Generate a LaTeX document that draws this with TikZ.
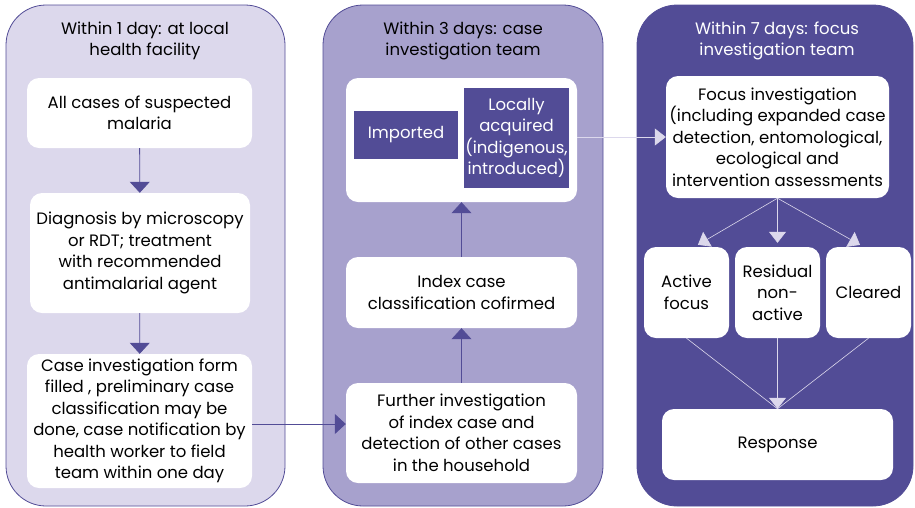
\documentclass[tikz,border=0pt]{standalone}
\usepackage{fontspec}
\setmainfont{Poppins}
\usetikzlibrary{arrows.meta}
\definecolor{deep}{HTML}{524C96}
\definecolor{mid}{HTML}{A7A1CD}
\definecolor{pale}{HTML}{DCD8EC}
\tikzstyle{panel}=[draw=deep, thick, rounded corners=40pt]
\tikzstyle{box}=[fill=white, rounded corners=12pt, align=center, inner sep=0pt]
\tikzstyle{tag}=[fill=deep, text=white, align=center, inner sep=0pt]
\tikzstyle{head}=[align=center]
\tikzstyle{link}=[deep, thick, -{Triangle[width=20pt, length=11pt]}]
\tikzstyle{lite}=[pale, semithick, -{Triangle[width=17pt, length=11pt]}]

\begin{document}
\begin{tikzpicture}[x=1pt, y=-1pt, font=\fontsize{16.5}{21.5}\selectfont]
                    \useasboundingbox (0,0) rectangle (915,507);
                    % three stages
                    \draw[panel, fill=pale] (6,5) rectangle (285,506);
                    \draw[panel, fill=mid]  (323,5) rectangle (603,506);
                    \draw[panel, fill=deep] (637,5) rectangle (913,506);
                    \node[head] (t1) at (145,41) {Within 1 day: at local\\health facility};
                    \node[head] (t2) at (463,41) {Within 3 days: case\\investigation team};
                    \node[head, text=white] (t3) at (777,41) {Within 7 days: focus\\investigation team};
                    % day 1
                    \node[box, minimum width=225, minimum height=70] (cases) at (139.5,113) {All cases of suspected\\malaria};
                    \node[box, minimum width=220, minimum height=120] (diag) at (140,253) {Diagnosis by microscopy\\or RDT; treatment\\with recommended\\antimalarial agent};
                    \node[box, minimum width=225, minimum height=134] (form) at (139.5,421) {Case investigation form\\filled , preliminary case\\classification may be\\done, case notification by\\health worker to field\\team within one day};
                    % day 3
                    \node[box, minimum width=231, minimum height=124] (class) at (461.5,140) {};
                    \node[tag, minimum width=104, minimum height=48] (imp) at (406,135) {Imported};
                    \node[tag, minimum width=105, minimum height=100] (local) at (516.5,138) {Locally\\acquired\\(indigenous,\\introduced)};
                    \node[box, minimum width=231, minimum height=71] (index) at (461.5,292.5) {Index case\\classification cofirmed};
                    \node[box, minimum width=231, minimum height=100] (further) at (461.5,433) {Further investigation\\of index case and\\detection of other cases\\in the household};
                    % day 7
                    \node[box, minimum width=223, minimum height=122] (focus) at (777.5,137) {Focus investigation\\(including expanded case\\detection, entomological,\\ecological and\\intervention assessments};
                    \node[box, minimum width=85, minimum height=91] (active) at (686.5,292.5) {Active\\focus};
                    \node[box, minimum width=85, minimum height=91] (resid) at (777.5,292.5) {Residual\\non-\\active};
                    \node[box, minimum width=85, minimum height=91] (clear) at (868.5,292.5) {Cleared};
                    \node[box, minimum width=231, minimum height=71] (resp) at (777.5,444.5) {Response};
                    % arrows
                    \draw[link] (cases) -- (diag);
                    \draw[link] (diag) -- (form);
                    \draw[link] ([yshift=-3]form.east) -- ([yshift=-3]form.east -| further.west);
                    \draw[link] (further) -- (index);
                    \draw[link] (index) -- (class);
                    \draw[lite] (class.east |- focus.west) -- (focus.west);
                    \draw[lite, shorten >=4pt] (focus.south) -- ([xshift=8]active.north);
                    \draw[lite, shorten >=4pt] (focus.south) -- (resid.north);
                    \draw[lite, shorten >=4pt] (focus.south) -- ([xshift=-5]clear.north);
                    \draw[pale, semithick] (active.south) -- (resp.north);
                    \draw[pale, semithick] (clear.south) -- (resp.north);
                    \draw[lite] (resid.south) -- (resp.north);
                \end{tikzpicture}
\end{document}
